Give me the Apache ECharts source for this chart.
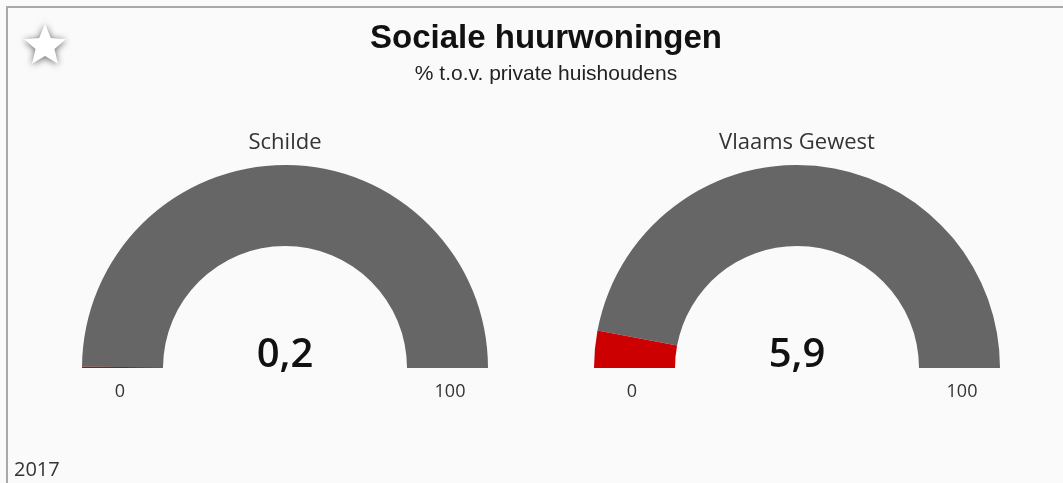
<!DOCTYPE html>
<html>
<head>
<meta charset="utf-8">
<script src="https://cdn.jsdelivr.net/npm/echarts@6/dist/echarts.min.js"></script>
<style>
html,body{margin:0;padding:0;background:#fafafa;}
#chart{width:1063px;height:483px;}
</style>
</head>
<body>
<div id="chart"></div>
<script>
// ---- data ----
const regions = ['Schilde', 'Vlaams Gewest'];
const values = [0.2, 5.9];
const axisMin = 0;
const axisMax = 100;
const tickLabels = ['0', '100'];
const titleText = 'Sociale huurwoningen';
const subtitleText = '% t.o.v. private huishoudens';
const yearText = '2017';

// ---- layout ----
const centersX = [285, 797];
const centerY = 368;
const R = 203;
const band = 81;
const labelR = 165;

function fmt(v){ return v.toFixed(1).replace('.', ','); }

const series = regions.map((name, i) => ({
  type: 'gauge',
  center: [centersX[i], centerY],
  radius: R,
  startAngle: 180,
  endAngle: 0,
  min: axisMin,
  max: axisMax,
  pointer: {show: false},
  progress: {show: false},
  axisLine: {
    lineStyle: {
      width: band,
      color: [[values[i] / axisMax, '#cc0000'], [1, '#666666']]
    }
  },
  axisTick: {show: false},
  splitLine: {show: false},
  axisLabel: {show: false},
  anchor: {show: false},
  title: {
    offsetCenter: [0, -225],
    fontFamily: 'Open Sans',
    fontSize: 22,
    color: '#333'
  },
  detail: {
    offsetCenter: [0, -12],
    fontFamily: 'Open Sans',
    fontSize: 40,
    fontWeight: 600,
    color: '#111',
    formatter: v => fmt(v)
  },
  data: [{value: values[i], name: name}]
}));

// star points
function starPoints(cx, cy, ro, ri){
  const pts = [];
  for (let k = 0; k < 10; k++){
    const a = -Math.PI/2 + k*Math.PI/5;
    const r = k % 2 === 0 ? ro : ri;
    pts.push([cx + r*Math.cos(a), cy + r*Math.sin(a)]);
  }
  return pts;
}

const graphics = [
  {type: 'rect', shape: {x: 7, y: 7, width: 1200, height: 600}, style: {fill: '#fafafa', stroke: '#a9a9a9', lineWidth: 2}, z: -10},
  {type: 'polygon', shape: {points: starPoints(45, 46, 22, 10)}, style: {fill: '#ffffff', shadowBlur: 7, shadowColor: 'rgba(0,0,0,0.6)', shadowOffsetY: 1}},
  {type: 'text', x: 14, y: 470, style: {text: yearText, font: '20px "Open Sans"', fill: '#333', verticalAlign: 'middle'}}
];
centersX.forEach(cx => {
  [ [cx - labelR, tickLabels[0]], [cx + labelR, tickLabels[1]] ].forEach(([x, t]) => {
    graphics.push({type: 'text', x: x, y: 392, style: {text: t, font: '18px "Open Sans"', fill: '#333', align: 'center', verticalAlign: 'middle'}});
  });
});

const chart = echarts.init(document.getElementById('chart'));
chart.setOption({
  backgroundColor: '#fafafa',
  animation: false,
  title: {
    text: titleText,
    subtext: subtitleText,
    left: 541,
    textAlign: 'center',
    top: 17,
    itemGap: 9,
    textStyle: {fontFamily: 'Liberation Sans', fontSize: 33, fontWeight: 'bold', color: '#111'},
    subtextStyle: {fontFamily: 'Liberation Sans', fontSize: 21, color: '#222'}
  },
  graphic: graphics,
  series: series
});
</script>
</body>
</html>
